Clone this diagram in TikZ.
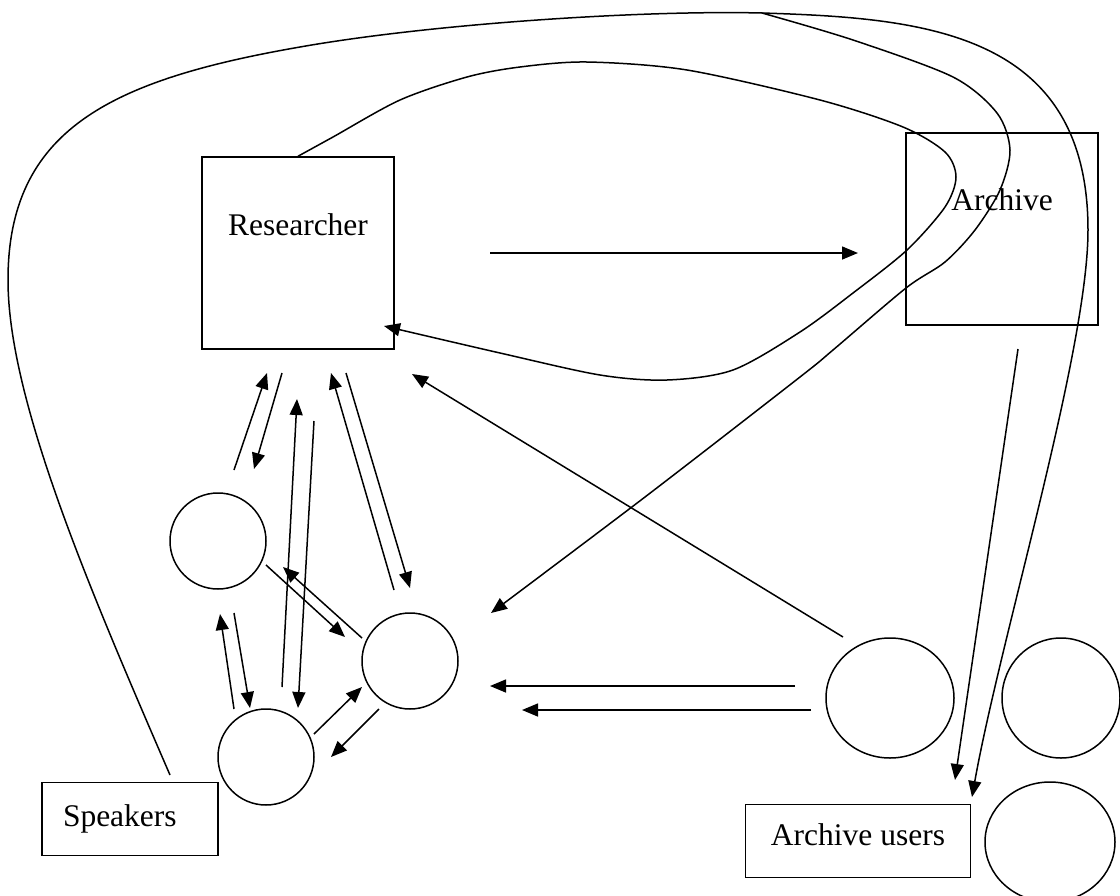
\documentclass[tikz,border=0pt]{standalone}
\usepackage{fontspec}
\setmainfont{Liberation Serif}
\usetikzlibrary{arrows.meta,shapes.geometric}

\tikzset{
  box/.style={draw, line width=1.5pt, inner sep=0pt, font=\fontsize{31.5}{38}\selectfont},
  ring/.style={draw, ellipse, line width=1.5pt, inner sep=0pt, minimum width=96pt, minimum height=96pt},
  link/.style={line width=1.5pt, -{Triangle[length=16pt,width=13pt]}},
}

\begin{document}
\begin{tikzpicture}[x=1pt,y=-1pt]
\useasboundingbox (0,0) rectangle (1120,895);

% the four labelled boxes
\node[box, minimum width=192pt, text height=78pt, text depth=114pt] (res) at (298,253) {Researcher};
\node[box, minimum width=192pt, text height=77pt, text depth=115pt] (arch) at (1002,229) {Archive};
\node[box, text width=134pt, inner xsep=21pt, align=left, text height=44pt, text depth=29pt] (spk) at (130,819) {Speakers};
\node[box, minimum width=225pt, text height=41pt, text depth=32pt] (users) at (858,841) {Archive users};

% speakers and archive users
\node[ring] (cA) at (218,541) {};
\node[ring] (cB) at (410,661) {};
\node[ring] (cC) at (266,757) {};
\node[ring, minimum width=128pt, minimum height=120pt] (uD) at (890,698) {};
\node[ring, minimum width=118pt, minimum height=120pt] (uE) at (1061,698) {};
\node[ring, minimum width=130pt, minimum height=120pt] (uF) at (1050,842) {};

% free ends of the straight arrows
\coordinate (p1) at (234,470);  \coordinate (q1) at (267,373);
\coordinate (p2) at (282,373);  \coordinate (q2) at (254,469);
\coordinate (p3) at (282,687);  \coordinate (q3) at (297,399);
\coordinate (p4) at (314,421);  \coordinate (q4) at (298,708);
\coordinate (p5) at (394,590);  \coordinate (q5) at (331,373);
\coordinate (p6) at (346,373);  \coordinate (q6) at (410,588);
\coordinate (p7) at (266,565);  \coordinate (q7) at (345,637);
\coordinate (p8) at (362,638);  \coordinate (q8) at (283,567);
\coordinate (p9) at (234,709);  \coordinate (q9) at (220,614);
\coordinate (p10) at (234,613); \coordinate (q10) at (250,708);
\coordinate (p11) at (314,734); \coordinate (q11) at (362,687);
\coordinate (p12) at (379,709); \coordinate (q12) at (331,757);
\coordinate (p13) at (843,637); \coordinate (q13) at (412,374);
\coordinate (p14) at (795,686); \coordinate (q14) at (490,686);
\coordinate (p15) at (811,710); \coordinate (q15) at (522,710);
\coordinate (p16) at (1018,349); \coordinate (q16) at (955,780);
\coordinate (p17) at (490,253); \coordinate (q17) at (858,253);
\foreach \i in {1,...,17}
  \draw[link] (p\i) -- (q\i);

% long curved arrows
\coordinate (spkTop) at (170,775);
\coordinate (usersTop) at (972,797);
\coordinate (topFork) at (762,13);
\coordinate (toB) at (491,613);
\coordinate (toRes) at (384,326);
\draw[link] (spkTop) .. controls (90,590) and (8,400) .. (8,280)
  .. controls (8,130) and (110,80) .. (300,47)
  .. controls (430,24) and (640,10) .. (topFork)
  .. controls (920,18) and (1088,30) .. (1088,230)
  .. controls (1088,350) and (1000,640) .. (usersTop);
\draw[link] plot[smooth] coordinates {(topFork) (853,40) (953,77) (997,113) (1010,150) (1000,190) (975,230) (945,262) (906,288) (833,350) (800,377) (645,497) (toB)};
\draw[link] plot[smooth] coordinates {(res.north) (333,137) (400,100) (467,77) (520,67) (587,62) (687,70) (820,100) (903,127) (945,152) (956,177) (945,207) (907,250) (853,293) (800,332) (733,370) (667,380) (600,375) (500,353) (toRes)};
\end{tikzpicture}
\end{document}
